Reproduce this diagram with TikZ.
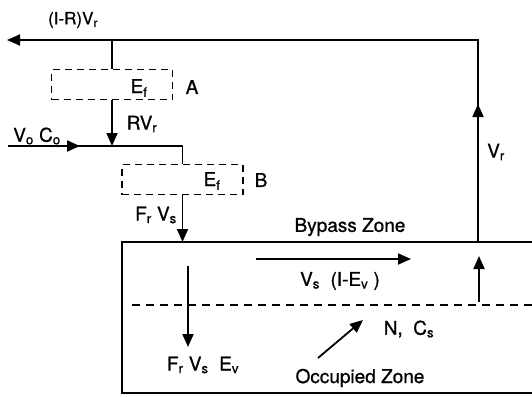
\documentclass[tikz,border=0pt]{standalone}
\usepackage{fontspec}
\setmainfont{TeX Gyre Heros}[FakeBold=0.8]
\usetikzlibrary{arrows.meta,decorations.markings}

\begin{document}
\begin{tikzpicture}[
  x=1pt, y=-1pt,
  duct/.style={line width=1.8pt},
  flow/.style={line width=1.8pt, -{Triangle[length=13pt,width=11pt]}},
  midarrow/.style={postaction={decorate}, decoration={markings,
    mark=at position #1 with {\arrow{Triangle[length=13pt,width=11pt]}}}},
  filter/.style={rectangle, draw, line width=1.5pt, dash pattern=on 7pt off 5pt,
    minimum width=121pt, minimum height=30pt, inner sep=0pt},
  zone/.style={line width=1.5pt, dash pattern=on 8pt off 6pt},
  lbl/.style={font=\fontsize{19}{21}\selectfont, inner sep=0pt},
  ]
  \useasboundingbox (0,0) rectangle (532,396);

  % filters
  \node [filter] (fa) at (112,84.5) {};
  \node [lbl] (efa) at (139,88) {E\textsubscript{f}};
  \node [lbl] (la) at (192,87) {A};
  \node [filter] (fb) at (182.5,179.5) {};
  \node [lbl] (efb) at (212,181) {E\textsubscript{f}};
  \node [lbl] (lb) at (261,180) {B};

  % duct points
  \coordinate (outlet) at (478,242);
  \coordinate (corner) at (478,40);
  \coordinate (tee) at (112,40);
  \coordinate (exhaust) at (7,40);
  \coordinate (inlet) at (8,146);
  \coordinate (mix) at (112,146);
  \coordinate (supply) at (182.5,242);

  % room
  \coordinate (roomtr) at (532,242);
  \coordinate (roomtl) at (122,242);
  \coordinate (roombl) at (122,393);
  \coordinate (roombr) at (532,393);
  \coordinate (zonel) at (132,305);
  \coordinate (zoner) at (532,305);
  \draw [duct] (roomtr) -- (roomtl) -- (roombl) -- (roombr);
  \draw [zone] (zonel) -- (zoner);

  % ducts
  \draw [duct, midarrow=138pt, -{Triangle[length=13pt,width=11pt]}] (outlet) -- (corner) -- (exhaust);
  \draw [duct] (tee) -- (fa.north);
  \draw [flow] (fa.south) -- (mix);
  \draw [duct, midarrow=72pt] (inlet) -- (mix) -| (fb.north);
  \draw [flow] (fb.south) -- (supply);

  % flows in the room
  \coordinate (bypassl) at (256,259);
  \coordinate (bypassr) at (411,259);
  \coordinate (downt) at (188,266);
  \coordinate (downb) at (188,347);
  \coordinate (upb) at (479,302);
  \coordinate (upt) at (479,256);
  \coordinate (sources) at (318,358);
  \coordinate (sourcee) at (363,320);
  \draw [flow] (bypassl) -- (bypassr);
  \draw [flow] (downt) -- (downb);
  \draw [flow] (upb) -- (upt);
  \draw [flow] (sources) -- (sourcee);

  % labels
  \node [lbl, font=\fontsize{17}{19}\selectfont] (exh) at (73,20) {(I-R)V\textsubscript{r}};
  \node [lbl] (rec) at (142,124) {RV\textsubscript{r}};
  \node [lbl] (fresh) at (37,136) {V\textsubscript{o} C\textsubscript{o}};
  \node [lbl] (sup) at (156,215) {F\textsubscript{r} V\textsubscript{s}};
  \node [lbl] (ret) at (496,152) {V\textsubscript{r}};
  \node [lbl] (bypass) at (350,227) {Bypass Zone};
  \node [lbl] (short) at (340,281) {V\textsubscript{s}\ \ (I-E\textsubscript{v}\ )};
  \node [lbl] (vent) at (203,365) {F\textsubscript{r} V\textsubscript{s}\ \ E\textsubscript{v}};
  \node [lbl] (src) at (409,329) {N,\ \ C\textsubscript{s}};
  \node [lbl] (occ) at (360,378) {Occupied Zone};
\end{tikzpicture}
\end{document}
